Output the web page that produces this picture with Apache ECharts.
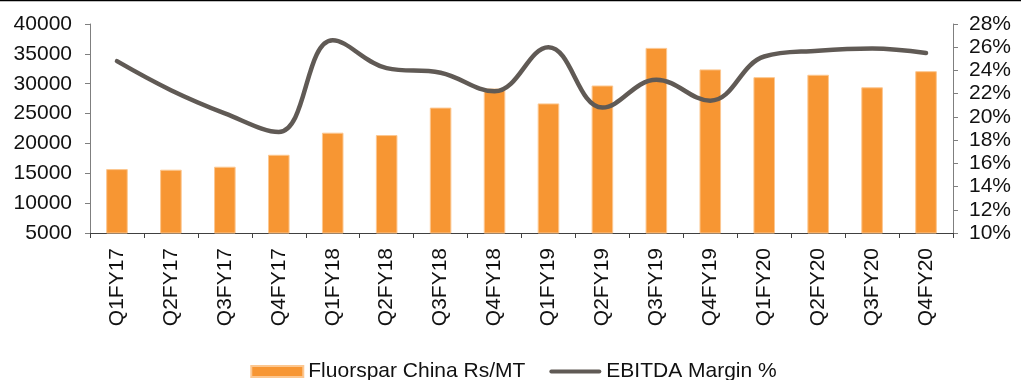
<!DOCTYPE html>
<html>
<head>
<meta charset="utf-8">
<script src="https://cdn.jsdelivr.net/npm/echarts@6/dist/echarts.min.js"></script>
<style>
  html, body { margin: 0; padding: 0; background: #fff; }
  #chart { width: 1027px; height: 380px; }
</style>
</head>
<body>
<div id="chart"></div>
<script>
// Quarterly categories
const quarters = ['Q1FY17','Q2FY17','Q3FY17','Q4FY17','Q1FY18','Q2FY18','Q3FY18','Q4FY18',
                  'Q1FY19','Q2FY19','Q3FY19','Q4FY19','Q1FY20','Q2FY20','Q3FY20','Q4FY20'];
// Fluorspar price in China, Rs per metric tonne
const fluorsparPrice = [15700, 15600, 16100, 18100, 21800, 21400, 26000, 29200,
                        26700, 29700, 36000, 32400, 31100, 31500, 29400, 32100];
// EBITDA margin, percent
const ebitdaMargin = [24.8, 22.3, 20.3, 18.7, 26.6, 24.2, 23.8, 22.2,
                      26.0, 20.8, 23.2, 21.4, 25.2, 25.7, 25.9, 25.5];

const FONT = '"Liberation Sans", Arial, sans-serif';
const LINE_COLOR = '#605a55';
const BAR_COLOR = '#f79633';
// thin rounded bar used as the line series' legend key
const LINE_KEY = 'path://M2,0 L50,0 A2,2 0 0 1 50,4 L2,4 A2,2 0 0 1 2,0 Z';
const chart = echarts.init(document.getElementById('chart'), null, { renderer: 'canvas' });

chart.setOption({
  animation: false,
  backgroundColor: '#ffffff',
  textStyle: { fontFamily: FONT, color: '#111' },
  grid: { left: 90, right: 74, top: 24, bottom: 147, containLabel: false },
  legend: {
    top: 356,
    left: 'center',
    itemWidth: 52,
    itemHeight: 11,
    itemGap: 24,
    symbolKeepAspect: true,
    textStyle: { fontFamily: FONT, fontSize: 21, color: '#111' },
    data: [
      { name: 'Fluorspar China Rs/MT', icon: 'rect' },
      { name: 'EBITDA Margin %', icon: LINE_KEY, itemStyle: { color: LINE_COLOR } }
    ]
  },
  xAxis: {
    type: 'category',
    data: quarters,
    boundaryGap: true,
    axisLine: { lineStyle: { color: '#404040', width: 1 } },
    axisTick: { show: true, alignWithLabel: false, length: 5, lineStyle: { color: '#404040' } },
    axisLabel: { rotate: 90, margin: 15, fontSize: 21, fontFamily: FONT, color: '#111' }
  },
  yAxis: [
    {
      type: 'value',
      min: 5000, max: 40000, interval: 5000,
      splitLine: { show: false },
      axisLine: { show: true, lineStyle: { color: '#7f7f7f' } },
      axisTick: { show: true, length: 5, lineStyle: { color: '#7f7f7f' } },
      axisLabel: { fontSize: 21, fontFamily: FONT, color: '#111', margin: 18,
                   formatter: v => String(v) }
    },
    {
      type: 'value',
      min: 10, max: 28, interval: 2,
      position: 'right',
      splitLine: { show: false },
      axisLine: { show: true, lineStyle: { color: '#7f7f7f' } },
      axisTick: { show: true, length: 5, lineStyle: { color: '#7f7f7f' } },
      axisLabel: { fontSize: 21, fontFamily: FONT, color: '#111', margin: 16, formatter: '{value}%' }
    }
  ],
  series: [
    {
      name: 'Fluorspar China Rs/MT',
      type: 'bar',
      yAxisIndex: 0,
      data: fluorsparPrice,
      barWidth: '40%',
      itemStyle: { color: BAR_COLOR, borderColor: '#fcc790', borderWidth: 1 }
    },
    {
      name: 'EBITDA Margin %',
      type: 'line',
      yAxisIndex: 1,
      data: ebitdaMargin,
      smooth: 0.4,
      symbol: 'none',
      lineStyle: { color: LINE_COLOR, width: 4.5, cap: 'round' },
      itemStyle: { color: LINE_COLOR }
    }
  ],
  graphic: [
    {
      type: 'line',
      shape: { x1: 0, y1: 0.5, x2: 1021, y2: 0.5 },
      style: { stroke: '#000', lineWidth: 1.5 }
    }
  ]
});
</script>
</body>
</html>
